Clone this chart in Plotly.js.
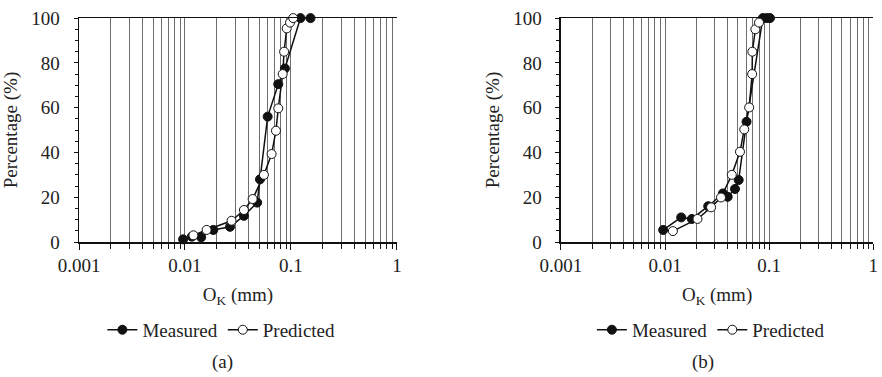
<!DOCTYPE html>
<html>
<head>
<meta charset="utf-8">
<script src="https://cdn.plot.ly/plotly-3.0.1.min.js"></script>
<style>
  html, body { margin: 0; padding: 0; background: #fff; }
  #chart { width: 882px; height: 377px; }
</style>
</head>
<body>
<div id="chart"></div>
<script>
// Grain-size curves (particle size in mm vs. cumulative percentage)
const aMeasuredSize = [0.0096, 0.0116, 0.0142, 0.0185, 0.0266, 0.036, 0.048, 0.051, 0.0603, 0.0759, 0.0877, 0.123, 0.153];
const aMeasuredPct  = [1.2, 2.4, 2.1, 5.4, 6.8, 11.7, 17.6, 28, 56, 70.5, 77.5, 100, 100];
const aPredictedSize = [0.012, 0.016, 0.0275, 0.036, 0.0435, 0.0556, 0.0657, 0.0722, 0.0759, 0.0836, 0.0862, 0.0912, 0.098, 0.105];
const aPredictedPct  = [3, 5.4, 9.5, 14.3, 19.2, 30, 39.3, 49.7, 59.7, 75, 85, 95.4, 98, 100];

const bMeasuredSize = [0.0096, 0.0143, 0.0181, 0.026, 0.036, 0.040, 0.047, 0.051, 0.0607, 0.087, 0.095, 0.102];
const bMeasuredPct  = [5.4, 11, 10.3, 16, 21.7, 20.2, 23.7, 27.7, 53.7, 100, 100, 100];
const bPredictedSize = [0.0119, 0.0205, 0.0277, 0.0345, 0.0438, 0.0525, 0.0577, 0.0643, 0.0687, 0.069, 0.0738, 0.080];
const bPredictedPct  = [4.9, 10.3, 15.5, 19.9, 30, 40.3, 50.3, 60.1, 75, 85, 95, 98];

const xTickVals = [0.001, 0.01, 0.1, 1];
const xTickText = ['0.001', '0.01', '0.1', '1'];
const yTickVals = [0, 20, 40, 60, 80, 100];

const seriesNames = ['Measured', 'Predicted'];
const panelLabels = ['(a)', '(b)'];

const FONT = '"Liberation Serif", "Times New Roman", serif';
const GRID = '#6e6e6e';

function seriesTrace(x, y, name, filled, xa, ya, legend) {
  return {
    x: x, y: y, name: name, xaxis: xa, yaxis: ya, legend: legend,
    type: 'scatter', mode: 'lines+markers',
    line: { color: '#111', width: 1.5 },
    marker: {
      symbol: 'circle', size: 9,
      color: filled ? '#111' : '#fff',
      line: { color: '#111', width: 1 }
    },
    cliponaxis: false
  };
}

const data = [
  seriesTrace(aMeasuredSize, aMeasuredPct, seriesNames[0], true, 'x', 'y', 'legend'),
  seriesTrace(aPredictedSize, aPredictedPct, seriesNames[1], false, 'x', 'y', 'legend'),
  seriesTrace(bMeasuredSize, bMeasuredPct, seriesNames[0], true, 'x2', 'y2', 'legend2'),
  seriesTrace(bPredictedSize, bPredictedPct, seriesNames[1], false, 'x2', 'y2', 'legend2')
];

function xAxis(domain, anchor) {
  return {
    domain: domain, anchor: anchor, type: 'log', range: [-3, 0],
    tickmode: 'array', tickvals: xTickVals, ticktext: xTickText,
    ticks: 'outside', ticklen: 6, tickwidth: 1, tickcolor: '#111',
    showgrid: true, gridcolor: GRID, gridwidth: 1,
    minor: { dtick: 'D1', ticks: 'outside', ticklen: 5, tickcolor: '#111', showgrid: true, gridcolor: GRID, gridwidth: 1 },
    showline: true, linecolor: '#111', linewidth: 1.5, mirror: true,
    zeroline: false,
    tickfont: { family: FONT, size: 19, color: '#222' },
    title: { text: 'O<sub>K</sub> (mm)', font: { family: FONT, size: 19, color: '#222' }, standoff: 12 }
  };
}

function yAxis(domain, anchor) {
  return {
    domain: domain, anchor: anchor, range: [0, 100],
    tickmode: 'array', tickvals: yTickVals,
    ticks: 'outside', ticklen: 4, tickwidth: 1, tickcolor: '#111',
    minor: { dtick: 5, ticks: 'outside', ticklen: 3, tickcolor: '#111' },
    showgrid: false, zeroline: false,
    showline: true, linecolor: '#111', linewidth: 1.5,
    ticklabelstandoff: 10,
    tickfont: { family: FONT, size: 19, color: '#222' },
    title: { text: 'Percentage (%)', font: { family: FONT, size: 19, color: '#222' }, standoff: 8 }
  };
}

// inward half of the crossing y ticks
function yInner(overlay, anchor) {
  return {
    overlaying: overlay, anchor: anchor, range: [0, 100],
    tickmode: 'array', tickvals: yTickVals,
    ticks: 'inside', ticklen: 4, tickwidth: 1, tickcolor: '#111',
    minor: { dtick: 5, ticks: 'inside', ticklen: 3, tickcolor: '#111' },
    showticklabels: false, showgrid: false, zeroline: false, showline: false
  };
}

const yDom = [0.358, 0.952];

const layout = {
  width: 882, height: 377,
  margin: { l: 0, r: 0, t: 0, b: 0 },
  paper_bgcolor: '#fff', plot_bgcolor: '#fff',
  showlegend: true,
  font: { family: FONT, size: 19, color: '#222' },
  xaxis: xAxis([0.0896, 0.450], 'y'),
  yaxis: yAxis(yDom, 'x'),
  xaxis2: xAxis([0.636, 0.99], 'y2'),
  yaxis2: yAxis(yDom, 'x2'),
  yaxis3: yInner('y', 'x'),
  yaxis4: yInner('y2', 'x2'),
  legend: {
    orientation: 'h', x: 0.251, xanchor: 'center', y: 0.125, yanchor: 'middle',
    font: { family: FONT, size: 19, color: '#222' }, itemwidth: 30,
    bgcolor: 'rgba(0,0,0,0)', tracegroupgap: 0
  },
  legend2: {
    orientation: 'h', x: 0.806, xanchor: 'center', y: 0.125, yanchor: 'middle',
    font: { family: FONT, size: 19, color: '#222' }, itemwidth: 30,
    bgcolor: 'rgba(0,0,0,0)', tracegroupgap: 0
  },
  annotations: [
    { text: panelLabels[0], xref: 'paper', yref: 'paper', x: 0.252, y: 0.04,
      xanchor: 'center', yanchor: 'middle', showarrow: false,
      font: { family: FONT, size: 19, color: '#222' } },
    { text: panelLabels[1], xref: 'paper', yref: 'paper', x: 0.797, y: 0.04,
      xanchor: 'center', yanchor: 'middle', showarrow: false,
      font: { family: FONT, size: 19, color: '#222' } }
  ]
};

Plotly.newPlot('chart', data, layout, { staticPlot: true, displayModeBar: false });
</script>
</body>
</html>
